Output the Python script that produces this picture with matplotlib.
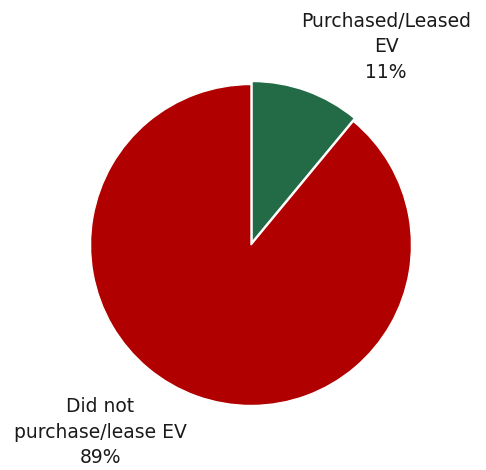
import matplotlib
matplotlib.use("Agg")
import matplotlib.pyplot as plt

labels = ["Purchased/Leased\nEV", "Did not\npurchase/lease EV"]
shares = [11, 89]
colors = ["#226B46", "#B00000"]
explode = [0.02, 0.0]

W, H = 486, 470
fig = plt.figure(figsize=(W / 100, H / 100), dpi=100)

cx, cy, r = 251, 245, 160.5
ax = fig.add_axes([(cx - r) / W, (H - cy - r) / H, 2 * r / W, 2 * r / H])
ax.pie(shares, colors=colors, explode=explode, startangle=90, counterclock=False,
       radius=1.0, wedgeprops=dict(edgecolor="white", linewidth=1.0))
ax.set_xlim(-1, 1)
ax.set_ylim(-1, 1)
ax.set_aspect("equal")
ax.axis("off")

label_pos = [(386, 47), (100, 432)]
for lab, val, (px, py) in zip(labels, shares, label_pos):
    ax.text((px - cx) / r, (cy - py) / r, f"{lab}\n{val}%", ha="center", va="center",
            fontsize=13.5, color="#1a1a1a", linespacing=1.42, clip_on=False,
            family="DejaVu Sans")

fig.savefig("out.png", dpi=100)
